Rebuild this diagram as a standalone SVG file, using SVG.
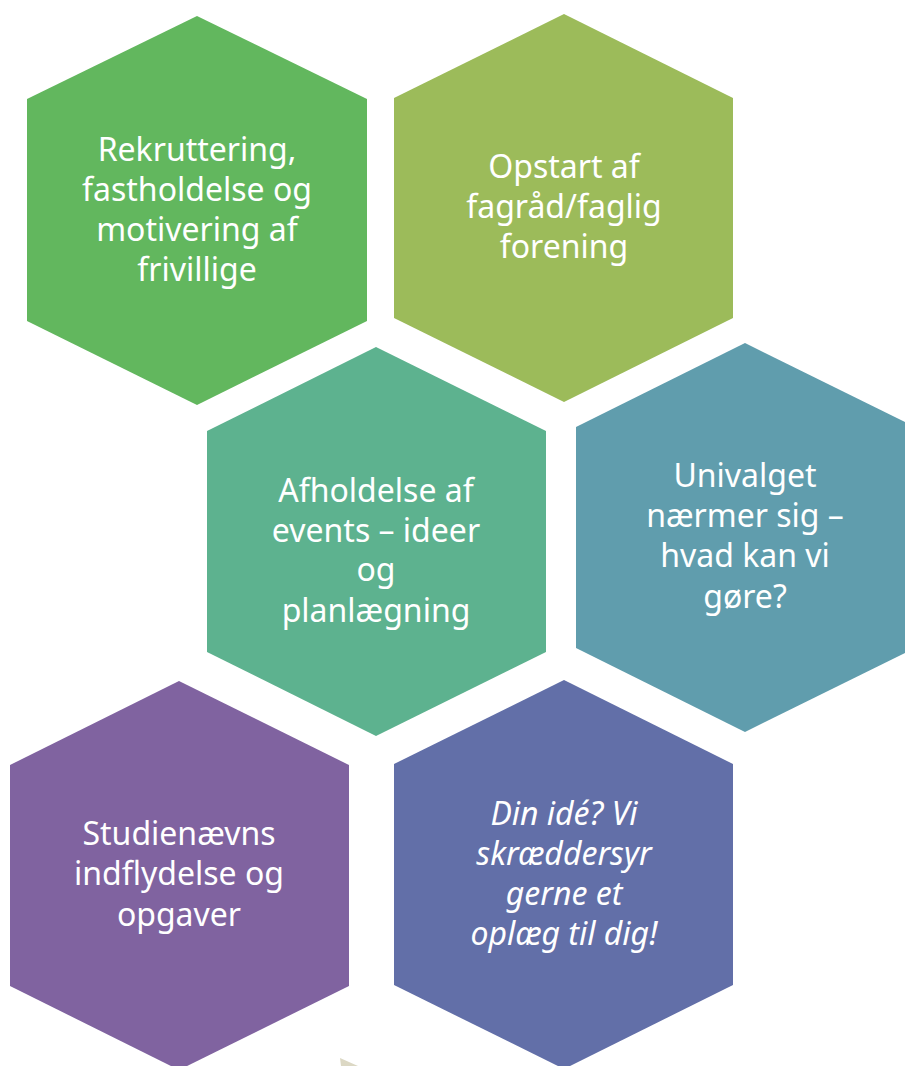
<svg xmlns="http://www.w3.org/2000/svg" width="905" height="1066" viewBox="0 0 905 1066">
<style>
.t{font-family:"Noto Sans","Open Sans","Liberation Sans",sans-serif;font-size:32px;fill:#ffffff;text-anchor:middle}
.i{font-style:italic}
</style>
<rect width="905" height="1066" fill="#ffffff"/>
<g id="connectors"></g>
<g id="n1">
<polygon points="197,16 367,99 367,321 197,405 27,321 27,99" fill="#62B75E"/>
<text class="t"><tspan x="197" y="161">Rekruttering,</tspan><tspan x="197" y="201">fastholdelse og</tspan><tspan x="197" y="241">motivering af</tspan><tspan x="197" y="281">frivillige</tspan></text>
</g>
<g id="n2">
<polygon points="564,14 733,98 733,318 564,402 394,318 394,98" fill="#9CBB5A"/>
<text class="t"><tspan x="564" y="178">Opstart af</tspan><tspan x="564" y="218">fagråd/faglig</tspan><tspan x="564" y="258">forening</tspan></text>
</g>
<g id="n3">
<polygon points="376,347 546,431 546,652 376,736 207,652 207,431" fill="#5DB28F"/>
<text class="t"><tspan x="376" y="502">Afholdelse af</tspan><tspan x="376" y="542">events – ideer</tspan><tspan x="376" y="581">og</tspan><tspan x="376" y="622">planlægning</tspan></text>
</g>
<g id="n4">
<polygon points="745,343 915,427 915,648 745,732 576,648 576,427" fill="#609DAD"/>
<text class="t"><tspan x="745" y="487">Univalget</tspan><tspan x="745" y="527">nærmer sig –</tspan><tspan x="745" y="567">hvad kan vi</tspan><tspan x="745" y="608">gøre?</tspan></text>
</g>
<g id="n5">
<polygon points="179,681 349,765 349,986 179,1070 10,986 10,765" fill="#8063A0"/>
<text class="t"><tspan x="179" y="845">Studienævns</tspan><tspan x="179" y="885">indflydelse og</tspan><tspan x="179" y="926">opgaver</tspan></text>
</g>
<g id="n6">
<polygon points="564,680 733,764 733,985 564,1069 394,985 394,764" fill="#626FA8"/>
<text class="t i"><tspan x="564" y="825">Din idé? Vi</tspan><tspan x="564" y="865">skræddersyr</tspan><tspan x="564" y="905">gerne et</tspan><tspan x="564" y="945">oplæg til dig!</tspan></text>
</g>
<g id="n7">
<polygon points="340,1058 358,1066 341,1066" fill="#DCD8C4"/>
</g>
</svg>
